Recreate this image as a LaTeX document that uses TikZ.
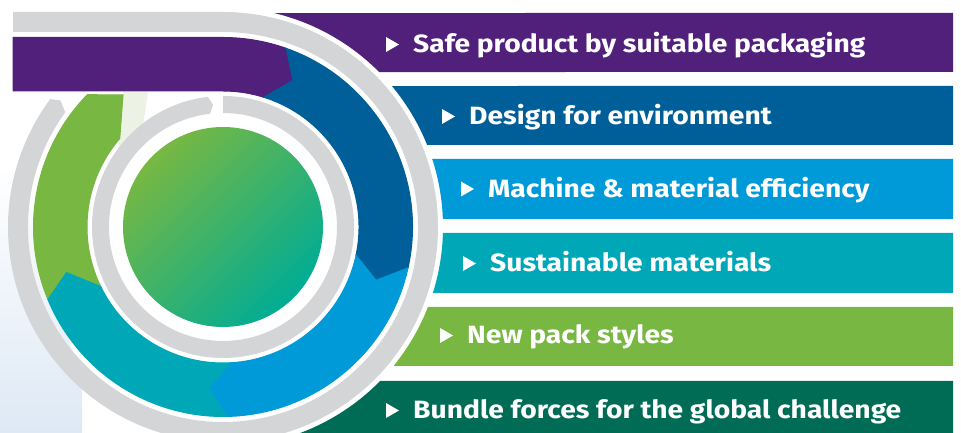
\documentclass[tikz,border=0pt]{standalone}
\usepackage{fontspec}
\setmainfont{Fira Sans}[FakeStretch=1.13]
\definecolor{cpurple}{RGB}{81,32,123}
\definecolor{cdblue}{RGB}{0,94,152}
\definecolor{clblue}{RGB}{0,154,216}
\definecolor{cteal}{RGB}{0,168,183}
\definecolor{cgreen}{RGB}{120,184,66}
\definecolor{cdgreen}{RGB}{0,108,86}
\definecolor{cgray}{RGB}{212,213,215}
\definecolor{cinteal}{RGB}{0,172,148}
\definecolor{cpale}{RGB}{222,233,245}
\definecolor{cpalegreen}{RGB}{236,242,228}
\begin{document}
\begin{tikzpicture}[x=1pt,y=1pt,
  bannertext/.style={anchor=base west, text=white, inner sep=0pt,
    font=\bfseries\fontsize{25}{25}\selectfont},
  bulletmark/.style={fill=white},
  seg/.style={draw=white, line width=1pt, line join=miter},
  grayring/.style={fill=cgray}]
\useasboundingbox (0,0) rectangle (961,433);
% faint background shapes
\shade[top color=white, bottom color=cpale] (0,263) -- (25,268) -- (82,43) -- (82,0) -- (0,0) -- cycle;
\fill[cpalegreen] (123,341) -- (148,341) -- (140,288) -- (118,283) -- cycle;
\begin{scope}[shift={(223,206)}]
  \coordinate (C) at (0,0);
  % banners
  \fill[cpurple] (730,214) -- ({asin(214/220)}:220pt) arc[start angle={asin(214/220)}, end angle={asin(155/220)}, radius=220pt] -- (730,155) -- cycle;
  \fill[cdblue] (730,141) -- ({asin(141/220)}:220pt) arc[start angle={asin(141/220)}, end angle={asin(82/220)}, radius=220pt] -- (730,82) -- cycle;
  \fill[clblue] (730,68) -- ({asin(68/220)}:220pt) arc[start angle={asin(68/220)}, end angle={asin(8/220)}, radius=220pt] -- (730,8) -- cycle;
  \fill[cteal] (730,-6) -- ({asin(-6/220)}:220pt) arc[start angle={asin(-6/220)}, end angle={asin(-66/220)}, radius=220pt] -- (730,-66) -- cycle;
  \fill[cgreen] (730,-80) -- ({asin(-80/220)}:220pt) arc[start angle={asin(-80/220)}, end angle={asin(-139/220)}, radius=220pt] -- (730,-139) -- cycle;
  \fill[cdgreen] (730,-154) -- ({asin(-154/220)}:220pt) arc[start angle={asin(-154/220)}, end angle={asin(-215/220)}, radius=220pt] -- (730,-215) -- cycle;
  % outer gray ring
  \fill[grayring] (-210,215) -- (0,215) arc[start angle=90, end angle=-216.5, radius=215pt]
     -- (-217.9:206pt) -- (-216:195pt) arc[start angle=-216, end angle=90, radius=195pt] -- (-210,195) -- cycle;
  % coloured ring segments
  \fill[seg, cpurple] (-210,189.5) -- (0,189.5) arc[start angle=90, end angle=70.5, radius=189.5pt]
     -- (64.5:162.5pt) -- (72.5:136pt) arc[start angle=72.5, end angle=90, radius=136pt] -- (-210,136) -- cycle;
  \fill[seg, cdblue] (70.5:189.5pt) arc[start angle=70.5, end angle=-12.5, radius=189.5pt]
     -- (-19.2:162pt) -- (-12:136pt) arc[start angle=-12, end angle=72.5, radius=136pt] -- (64.5:162.5pt) -- cycle;
  \fill[seg, clblue] (-12.5:189.5pt) arc[start angle=-12.5, end angle=-88.8, radius=189.5pt]
     -- (-95.3:162pt) -- (-87:136pt) arc[start angle=-87, end angle=-12, radius=136pt] -- (-19.2:162pt) -- cycle;
  \fill[seg, cteal] (-88.8:189.5pt) arc[start angle=-88.8, end angle=-157.9, radius=189.5pt]
     -- (-164.3:163pt) -- (-154.75:136pt) arc[start angle=-154.75, end angle=-87, radius=136pt] -- (-95.3:162pt) -- cycle;
  \fill[seg, cgreen] (202.1:189.5pt) arc[start angle=202.1, end angle=135.7, radius=189.5pt]
     -- (-100,132) -- (139.4:136pt) arc[start angle=139.4, end angle=205.25, radius=136pt] -- (195.7:163pt) -- cycle;
  % inner gray ring
  \fill[grayring] (90:131pt) arc[start angle=90, end angle=-263.4, radius=131pt]
     -- (-265.3:122.5pt) -- (-263.5:114pt) arc[start angle=-263.5, end angle=90, radius=114pt] -- cycle;
  % centre disc
  \shade[top color=cgreen, middle color=cgreen!75!cinteal, bottom color=cinteal, shading angle=45] (C) circle (100pt);
\end{scope}
% banner texts
\node[bannertext] (t1) at (413,380) {Safe product by suitable packaging};
\node[bannertext] (t2) at (469,308) {Design for environment};
\node[bannertext] (t3) at (488,235.5) {Machine \& material efficiency};
\node[bannertext] (t4) at (490,161) {Sustainable materials};
\node[bannertext] (t5) at (467,89) {New pack styles};
\node[bannertext] (t6) at (413,14) {Bundle forces for the global challenge};
\foreach \t in {t1,t2,t3,t4,t5,t6}{
  \fill[bulletmark] ([xshift=-27pt,yshift=1pt]\t.base west) -- ++(0,15) -- ++(13,-7.5) -- cycle;
}
\end{tikzpicture}
\end{document}
